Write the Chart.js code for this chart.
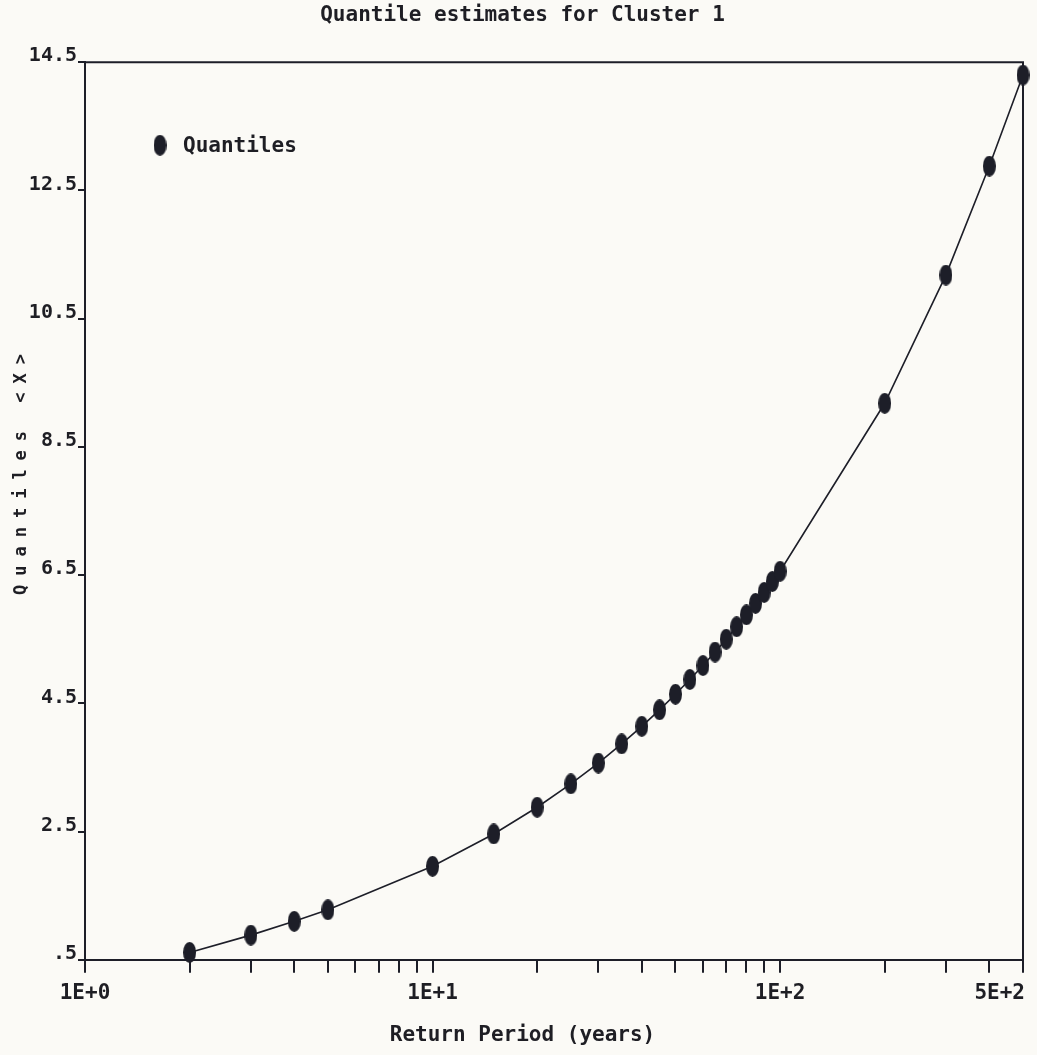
<!DOCTYPE html>
<html>
<head>
<meta charset="utf-8">
<title>Quantile estimates for Cluster 1</title>
<script src="https://cdn.jsdelivr.net/npm/chart.js@4.4.1/dist/chart.umd.min.js"></script>
<style>
  html, body { margin: 0; padding: 0; background: #fbfaf6; }
  #wrap { width: 1037px; height: 1055px; position: relative; }
</style>
</head>
<body>
<div id="wrap"><canvas id="chart"></canvas></div>
<script>
// return periods (years) and the fitted quantiles
const returnPeriods = [2, 3, 4, 5, 10, 15, 20, 25, 30, 35, 40, 45, 50, 55, 60, 65, 70, 75, 80, 85, 90, 95, 100, 200, 300, 400, 500];
const quantiles = [0.615, 0.885, 1.100, 1.279, 1.959, 2.463, 2.880, 3.244, 3.569, 3.867, 4.142, 4.399, 4.642, 4.872, 5.090, 5.300, 5.500, 5.694, 5.88, 6.06, 6.23, 6.40, 6.56, 9.18, 11.18, 12.88, 14.30];

// axis ticks
const xTickValues = [1, 2, 3, 4, 5, 6, 7, 8, 9, 10, 20, 30, 40, 50, 60, 70, 80, 90, 100, 200, 300, 400, 500];
const xLabelValues = [1, 10, 100, 500];
const xLabelTexts = ['1E+0', '1E+1', '1E+2', '5E+2'];
const yTickValues = [0.5, 2.5, 4.5, 6.5, 8.5, 10.5, 12.5, 14.5];
const yTickTexts = ['.5', '2.5', '4.5', '6.5', '8.5', '10.5', '12.5', '14.5'];

const ink = '#1d1e28';
const textColor = '#1e1e24';
const monoFont = '"DejaVu Sans Mono", "Liberation Mono", monospace';
const yTitle = 'Quantiles <X>';

// tall filled oval used as the point marker
function ovalMarker(w, h, color) {
  const c = document.createElement('canvas');
  c.width = w;
  c.height = h;
  const g = c.getContext('2d');
  g.fillStyle = color;
  g.beginPath();
  g.ellipse(w / 2, h / 2, w / 2, h / 2, 0, 0, Math.PI * 2);
  g.fill();
  return c;
}
const marker = ovalMarker(13, 21, ink);

// top/right frame, x tick labels, key and the rotated y title
const framePlugin = {
  id: 'frame',
  beforeDatasetsDraw(chart) {
    const { ctx, chartArea: a } = chart;
    ctx.save();
    ctx.strokeStyle = ink;
    ctx.lineWidth = 2;
    ctx.beginPath();
    ctx.moveTo(a.left, a.top);
    ctx.lineTo(a.right, a.top);
    ctx.lineTo(a.right, a.bottom);
    ctx.stroke();
    ctx.restore();
  },
  afterDraw(chart) {
    const { ctx, chartArea: a, scales: { x } } = chart;
    ctx.save();
    ctx.fillStyle = textColor;
    ctx.font = 'bold 21px ' + monoFont;
    ctx.textBaseline = 'middle';
    xLabelValues.forEach((v, i) => {
      const px = x.getPixelForValue(v);
      const last = v === x.max;
      ctx.textAlign = last ? 'right' : 'center';
      ctx.fillText(xLabelTexts[i], last ? px + 2 : px, a.bottom + 34);
    });

    // key in the upper left of the plot
    const ds = chart.data.datasets[0];
    const kx = a.left + 75, ky = a.top + 83;
    ctx.drawImage(marker, kx - marker.width / 2, ky - marker.height / 2);
    ctx.textAlign = 'left';
    ctx.fillText(ds.label, kx + 23, ky + 1);

    ctx.translate(22, 470);
    ctx.rotate(-Math.PI / 2);
    ctx.font = 'bold 17px ' + monoFont;
    ctx.letterSpacing = '9px';
    ctx.textAlign = 'center';
    ctx.fillText(yTitle, 0, 0);
    ctx.restore();
  }
};

new Chart(document.getElementById('chart'), {
  type: 'scatter',
  data: {
    datasets: [{
      label: 'Quantiles',
      data: returnPeriods.map((t, i) => ({ x: t, y: quantiles[i] })),
      showLine: true,
      tension: 0,
      borderColor: ink,
      borderWidth: 1.6,
      backgroundColor: ink,
      pointStyle: marker,
      pointRadius: 8,
      clip: false
    }]
  },
  options: {
    responsive: true,
    maintainAspectRatio: false,
    animation: false,
    layout: { padding: { left: 22, right: 14, top: 0, bottom: 0 } },
    plugins: {
      title: {
        display: true,
        text: 'Quantile estimates for Cluster 1',
        color: textColor,
        font: { family: monoFont, size: 21, weight: 'bold' },
        padding: { top: 3, bottom: 34 }
      },
      subtitle: {
        display: true,
        position: 'bottom',
        text: 'Return Period (years)',
        color: textColor,
        font: { family: monoFont, size: 21, weight: 'bold' },
        padding: { top: 0, bottom: 7 }
      },
      legend: { display: false },
      tooltip: { enabled: false }
    },
    scales: {
      x: {
        type: 'logarithmic',
        min: 1,
        max: 500,
        afterBuildTicks: (scale) => { scale.ticks = xTickValues.map(v => ({ value: v })); },
        afterFit: (scale) => { scale.height = 63; },
        ticks: { display: false },
        grid: { drawOnChartArea: false, drawTicks: true, tickLength: 13, color: ink, lineWidth: 2 },
        border: { display: true, color: ink, width: 2 }
      },
      y: {
        type: 'linear',
        min: 0.5,
        max: 14.5,
        afterBuildTicks: (scale) => { scale.ticks = yTickValues.map(v => ({ value: v })); },
        afterFit: (scale) => { scale.width = 63; },
        ticks: {
          callback: (v) => yTickTexts[yTickValues.indexOf(v)],
          color: textColor,
          font: { family: monoFont, size: 20, weight: 'bold' },
          padding: 1,
          labelOffset: -6
        },
        grid: { drawOnChartArea: false, drawTicks: true, tickLength: 7, color: ink, lineWidth: 2 },
        border: { display: true, color: ink, width: 2 }
      }
    }
  },
  plugins: [framePlugin]
});
</script>
</body>
</html>
